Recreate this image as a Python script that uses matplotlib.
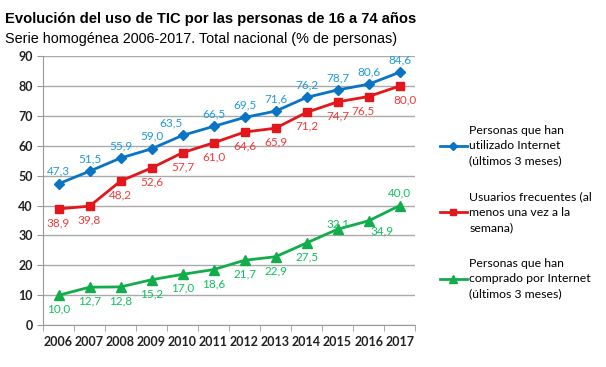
import matplotlib.pyplot as plt

# Datos
anios = ['2006', '2007', '2008', '2009', '2010', '2011',
         '2012', '2013', '2014', '2015', '2016', '2017']
internet = [47.3, 51.5, 55.9, 59.0, 63.5, 66.5, 69.5, 71.6, 76.2, 78.7, 80.6, 84.6]
frecuentes = [38.9, 39.8, 48.2, 52.6, 57.7, 61.0, 64.6, 65.9, 71.2, 74.7, 76.5, 80.0]
compras = [10.0, 12.7, 12.8, 15.2, 17.0, 18.6, 21.7, 22.9, 27.5, 32.1, 34.9, 40.0]

nombres = ['Personas que han\nutilizado Internet\n(últimos 3 meses)',
           'Usuarios frecuentes (al\nmenos una vez a la\nsemana)',
           'Personas que han\ncomprado por Internet\n(últimos 3 meses)']

# desplazamientos de las etiquetas (puntos)
off_internet = [(0, 5)] * 4 + [(-8, 5)] + [(0, 5)] * 7
off_frecuentes = [(0, -14)] * 9 + [(0, -14), (-4, -14), (4, -14)]
off_compras = [(0, -14)] * 9 + [(0, 0), (10, -11), (0, 5)]

fuente = 'Lato'
plt.rcParams['font.family'] = [fuente, 'DejaVu Sans']

fig = plt.figure(figsize=(6.06, 3.67), dpi=100)
ax = fig.add_axes([0.071, 0.114, 0.614, 0.733])

x = range(len(anios))
series = [
    (internet, '#0A74C4', '#1E9BDB', 'D', 5, off_internet),
    (frecuentes, '#E2161B', '#F23A3A', 's', 5.5, off_frecuentes),
    (compras, '#12AD4B', '#10C060', '^', 6.5, off_compras),
]
for (vals, col, lab_col, mk, ms, offs), nombre in zip(series, nombres):
    ax.plot(x, vals, color=col, marker=mk, markersize=ms, linewidth=2, label=nombre)
    for i, v in enumerate(vals):
        ax.annotate(f'{v:.1f}'.replace('.', ','), (i, v), xytext=offs[i],
                    textcoords='offset points', ha='center', va='bottom',
                    fontsize=8.5, color=lab_col)

ax.set_xlim(-0.5, len(anios) - 0.5)
ax.set_ylim(0, 90)
ax.set_yticks(range(0, 91, 10))
ax.set_xticks(x)
ax.set_xticklabels(anios, fontsize=9, fontweight='bold', color='#222222')
ax.tick_params(axis='x', length=0, pad=8)
ax.tick_params(axis='y', labelsize=9, colors='#222222', length=4, color='#999999')
for t in ax.get_yticklabels():
    t.set_fontweight('bold')
ax.set_xticks([i - 0.5 for i in range(len(anios) + 1)], minor=True)
ax.tick_params(axis='x', which='minor', length=4, color='#999999')
ax.grid(axis='y', color='#AAAAAA', linewidth=1)
ax.set_axisbelow(True)
for s in ['top', 'right']:
    ax.spines[s].set_visible(False)
ax.spines['left'].set_color('#999999')
ax.spines['bottom'].set_color('#999999')

leg = fig.legend(loc='upper left', bbox_to_anchor=(0.726, 0.66), frameon=False,
                 fontsize=8.8, handlelength=2.2, handletextpad=0.2, labelspacing=2.0,
                 borderpad=0, borderaxespad=0, markerscale=0.8)
for t in leg.get_texts():
    t.set_linespacing(1.5)

fig.text(0.008, 0.937, 'Evolución del uso de TIC por las personas de 16 a 74 años',
         fontsize=10.6, fontweight='bold', family=['Liberation Sans'])
fig.text(0.008, 0.882, 'Serie homogénea 2006-2017. Total nacional (% de personas)',
         fontsize=10.4, family=['Liberation Sans'])

fig.savefig('out.png', dpi=100)
